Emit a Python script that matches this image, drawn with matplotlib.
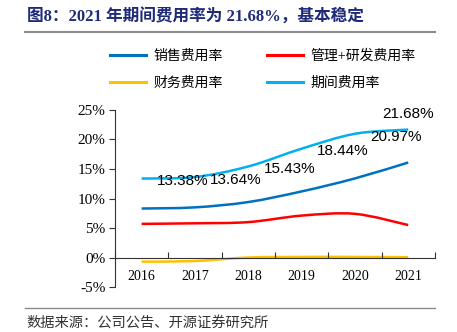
import matplotlib
matplotlib.use("Agg")
import matplotlib.pyplot as plt
from matplotlib.path import Path
from matplotlib.patches import PathPatch
import numpy as np

years = ["2016", "2017", "2018", "2019", "2020", "2021"]
sales = [8.3, 8.5, 9.4, 11.2, 13.4, 16.1]
mgmt_rd = [5.7, 5.8, 6.0, 7.1, 7.4, 5.5]
finance = [-0.7, -0.6, 0.0, 0.1, 0.1, 0.05]
period = [13.38, 13.64, 15.43, 18.44, 20.97, 21.68]
period_labels = ["13.38%", "13.64%", "15.43%", "18.44%", "20.97%", "21.68%"]

series = [
    ("销售费用率", sales, "#0070C0"),
    ("管理+研发费用率", mgmt_rd, "#FF0000"),
    ("财务费用率", finance, "#FFC000"),
    ("期间费用率", period, "#00B0F0"),
]

CJK = ["Liberation Serif", "Noto Sans CJK SC"]
plt.rcParams["font.family"] = CJK

fig = plt.figure(figsize=(4.57, 3.32), dpi=100)
ax = fig.add_axes([0.2516, 0.1355, 0.7, 0.5332])


def smooth_path(xs, ys):
    xs = np.asarray(xs, float)
    ys = np.asarray(ys, float)
    n = len(xs)
    verts = [(xs[0], ys[0])]
    codes = [Path.MOVETO]
    t = 1.0 / 6.0
    for i in range(n - 1):
        p0 = (xs[max(i - 1, 0)], ys[max(i - 1, 0)])
        p1 = (xs[i], ys[i])
        p2 = (xs[i + 1], ys[i + 1])
        p3 = (xs[min(i + 2, n - 1)], ys[min(i + 2, n - 1)])
        c1 = (p1[0] + (p2[0] - p0[0]) * t, p1[1] + (p2[1] - p0[1]) * t)
        c2 = (p2[0] - (p3[0] - p1[0]) * t, p2[1] - (p3[1] - p1[1]) * t)
        verts += [c1, c2, p2]
        codes += [Path.CURVE4] * 3
    return Path(verts, codes)


xs = np.arange(len(years))
handles = {}
for name, vals, color in series:
    patch = PathPatch(smooth_path(xs, vals), fill=False, edgecolor=color,
                      linewidth=1.8, capstyle="butt", joinstyle="round")
    ax.add_patch(patch)
    h, = ax.plot([], [], color=color, linewidth=2.2, label=name)
    handles[name] = h

for i, (v, lab) in enumerate(zip(period, period_labels)):
    if i == len(period) - 1:
        ax.annotate(lab, (xs[i], v), xytext=(0, 6), textcoords="offset points",
                    ha="center", va="bottom", fontsize=11, family="Liberation Sans")
    else:
        ax.annotate(lab, (xs[i], v), xytext=(11, -2), textcoords="offset points",
                    ha="left", va="center", fontsize=11, family="Liberation Sans")

ax.set_xlim(-0.5, 5.5)
ax.set_ylim(-5, 25)
yt = [-5, 0, 5, 10, 15, 20, 25]
ax.set_yticks(yt)
ax.set_yticklabels([f"{v}%" for v in yt])
ax.set_xticks(np.arange(-0.5, 6, 1.0))
ax.set_xticklabels([])
ax.set_xticks(xs, minor=True)
ax.set_xticklabels(years, minor=True)
for lab in ax.get_yticklabels() + ax.get_xticklabels(minor=True):
    lab.set_family("Liberation Serif")
    lab.set_fontsize(11)
ax.tick_params(axis="x", which="major", direction="in", length=4, width=0.8, color="#333333")
ax.tick_params(axis="x", which="minor", length=0, pad=9)
ax.tick_params(axis="y", direction="out", length=4, width=0.8, color="#333333", pad=3)

for s in ["top", "right"]:
    ax.spines[s].set_visible(False)
ax.spines["bottom"].set_position(("data", 0))
ax.spines["bottom"].set_color("#333333")
ax.spines["left"].set_color("#333333")
ax.spines["bottom"].set_linewidth(0.8)
ax.spines["left"].set_linewidth(0.8)

order = ["销售费用率", "财务费用率", "管理+研发费用率", "期间费用率"]
leg = fig.legend(handles=[handles[k] for k in order], loc="center",
                 bbox_to_anchor=(0.575, 0.790), ncol=2,
                 frameon=False, prop={"family": CJK, "size": 10},
                 handlelength=2.6, columnspacing=3.2, labelspacing=0.95, handletextpad=0.5)

fig.text(0.058, 0.948, "图8：2021 年期间费用率为 21.68%，基本稳定", family=CJK,
         fontsize=12, fontweight="bold", color="#1F2A78", ha="left", va="center")
fig.add_artist(plt.Line2D([0.055, 0.952], [0.903, 0.903], color="#8C8C8C", linewidth=1.5))
fig.add_artist(plt.Line2D([0.055, 0.952], [0.072, 0.072], color="#8C8C8C", linewidth=1.0))
fig.text(0.058, 0.027, "数据来源：公司公告、开源证券研究所", family=CJK,
         fontsize=10.3, color="#333333", ha="left", va="center")

fig.savefig("out.png", dpi=100)
